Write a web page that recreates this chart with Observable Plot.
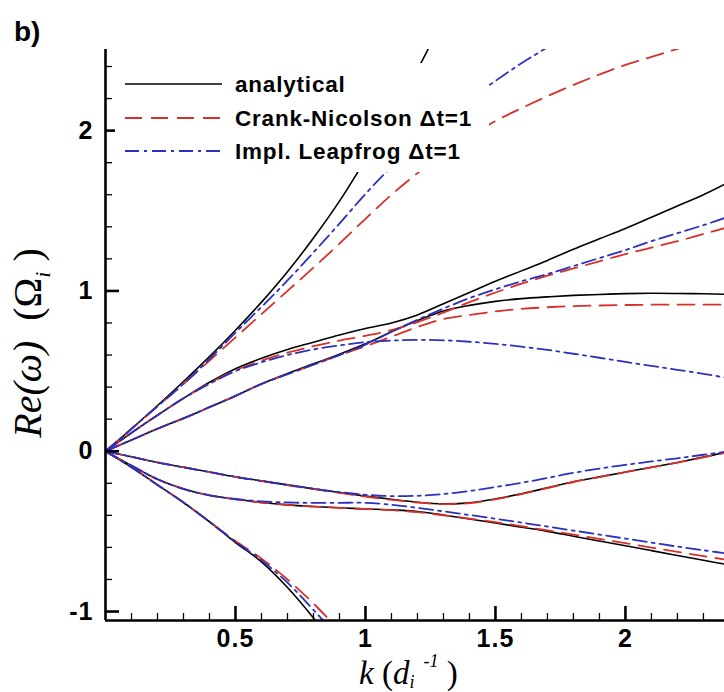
<!DOCTYPE html>
<html>
<head>
<meta charset="utf-8">
<script src="https://cdn.jsdelivr.net/npm/d3@7"></script>
<script src="https://cdn.jsdelivr.net/npm/@observablehq/plot@0.6"></script>
<style>
  body { margin: 0; background: #fff; }
  #chart { width: 724px; height: 692px; }
</style>
</head>
<body>
<div id="chart"></div>
<script>
// wavenumber grid k (d_i^-1)
const k = [0,0.1,0.2,0.3,0.4,0.5,0.6,0.7,0.8,0.9,1.0,1.1,1.2,1.3,1.4,1.5,1.6,1.7,1.8,1.9,2.0,2.1,2.2,2.3,2.4];

// analytical branches Re(omega) (Omega_i)
const anSteep = [0,0.14,0.285,0.435,0.59,0.755,0.93,1.12,1.33,1.56,1.82,2.09,2.38,2.70,null,null,null,null,null,null,null,null,null,null,null];
const anUpper = [0,0.115,0.225,0.33,0.43,0.515,0.58,0.635,0.68,0.725,0.765,0.80,0.85,0.92,0.99,1.06,1.125,1.19,1.26,1.325,1.39,1.46,1.53,1.60,1.68];
const anMid   = [0,0.07,0.14,0.205,0.275,0.345,0.42,0.485,0.545,0.605,0.67,0.745,0.815,0.875,0.91,0.935,0.952,0.963,0.972,0.978,0.983,0.985,0.984,0.982,0.978];
const anLow1  = [0,-0.035,-0.07,-0.10,-0.13,-0.16,-0.185,-0.21,-0.235,-0.257,-0.28,-0.30,-0.318,-0.328,-0.322,-0.298,-0.265,-0.228,-0.19,-0.16,-0.13,-0.10,-0.07,-0.037,-0.002];
const anLow2  = [0,-0.09,-0.175,-0.235,-0.275,-0.30,-0.32,-0.335,-0.345,-0.353,-0.36,-0.366,-0.376,-0.398,-0.423,-0.448,-0.474,-0.50,-0.53,-0.56,-0.59,-0.62,-0.65,-0.68,-0.71];
const anDown  = [0,-0.10,-0.21,-0.32,-0.44,-0.57,-0.69,-0.85,-1.04,-1.25,null,null,null,null,null,null,null,null,null,null,null,null,null,null,null];

// Crank-Nicolson dt=1
const cnSteep = [0,0.14,0.28,0.42,0.565,0.71,0.855,1.0,1.145,1.295,1.45,1.60,1.735,1.86,1.965,2.06,2.14,2.215,2.285,2.35,2.41,2.46,2.51,2.56,2.60];
const cnUpper = [0,0.115,0.225,0.33,0.425,0.505,0.565,0.615,0.655,0.69,0.72,0.755,0.805,0.865,0.93,0.99,1.045,1.095,1.14,1.185,1.23,1.27,1.31,1.355,1.40];
const cnMid   = [0,0.07,0.14,0.205,0.275,0.345,0.42,0.48,0.54,0.60,0.655,0.715,0.775,0.825,0.85,0.872,0.888,0.898,0.905,0.909,0.912,0.914,0.915,0.915,0.915];
const cnLow1  = [0,-0.035,-0.07,-0.10,-0.13,-0.16,-0.186,-0.212,-0.237,-0.26,-0.283,-0.303,-0.32,-0.33,-0.324,-0.30,-0.267,-0.23,-0.192,-0.161,-0.131,-0.101,-0.071,-0.038,-0.004];
const cnLow2  = [0,-0.09,-0.175,-0.235,-0.275,-0.30,-0.32,-0.335,-0.345,-0.353,-0.36,-0.368,-0.38,-0.40,-0.42,-0.443,-0.468,-0.494,-0.52,-0.547,-0.574,-0.601,-0.628,-0.654,-0.68];
const cnDown  = [0,-0.10,-0.21,-0.32,-0.44,-0.56,-0.67,-0.80,-0.95,-1.12,-1.30,null,null,null,null,null,null,null,null,null,null,null,null,null,null];

// Implicit Leapfrog dt=1
const ilSteep = [0,0.14,0.28,0.42,0.575,0.74,0.90,1.065,1.24,1.42,1.605,1.775,1.93,2.07,2.195,2.31,2.42,2.52,2.62,null,null,null,null,null,null];
const ilUpper = [0,0.07,0.14,0.205,0.275,0.345,0.42,0.48,0.54,0.60,0.665,0.745,0.82,0.89,0.955,1.01,1.06,1.105,1.155,1.205,1.255,1.31,1.36,1.41,1.465];
const ilMid   = [0,0.115,0.225,0.33,0.42,0.50,0.555,0.60,0.635,0.66,0.68,0.69,0.695,0.692,0.683,0.67,0.652,0.632,0.608,0.583,0.557,0.532,0.508,0.483,0.455];
const ilLow1  = [0,-0.035,-0.07,-0.10,-0.13,-0.16,-0.185,-0.21,-0.233,-0.255,-0.272,-0.28,-0.278,-0.267,-0.248,-0.224,-0.197,-0.167,-0.135,-0.108,-0.085,-0.064,-0.044,-0.022,0.0];
const ilLow2  = [0,-0.09,-0.175,-0.235,-0.275,-0.298,-0.313,-0.32,-0.322,-0.322,-0.322,-0.334,-0.353,-0.375,-0.398,-0.421,-0.445,-0.47,-0.495,-0.52,-0.545,-0.57,-0.595,-0.618,-0.64];
const ilDown  = [0,-0.10,-0.21,-0.32,-0.44,-0.565,-0.68,-0.82,-0.99,-1.17,-1.36,null,null,null,null,null,null,null,null,null,null,null,null,null,null];

// axis ticks
const xMajor = [0.5, 1, 1.5, 2];
const xMinor = [0.1,0.2,0.3,0.4,0.6,0.7,0.8,0.9,1.1,1.2,1.3,1.4,1.6,1.7,1.8,1.9,2.1,2.2,2.3];
const yMajor = [-1, 0, 1, 2];
const yMinor = [-0.8,-0.6,-0.4,-0.2,0.2,0.4,0.6,0.8,1.2,1.4,1.6,1.8,2.2,2.4];
const xDomain = [0, 2.381];
const yDomain = [-1.056, 2.506];

const legendLabels = ["analytical", "Crank-Nicolson \u0394t=1", "Impl. Leapfrog \u0394t=1"];

function rows(method, branches) {
  const out = [];
  for (const [name, arr] of Object.entries(branches)) {
    arr.forEach((w, i) => { if (w != null) out.push({k: k[i], w, branch: name, method}); });
  }
  return out;
}
const analytical = rows("analytical", {s: anSteep, u: anUpper, m: anMid, l1: anLow1, l2: anLow2, d: anDown});
const crank = rows("cn", {s: cnSteep, u: cnUpper, m: cnMid, l1: cnLow1, l2: cnLow2, d: cnDown});
const leap = rows("il", {s: ilSteep, u: ilUpper, m: ilMid, l1: ilLow1, l2: ilLow2, d: ilDown});

const RED = "#d8302a", BLUE = "#2a32bd";
const W = 724, H = 692, mL = 105, mR = 0, mT = 49, mB = 72;
const plotW = W - mL - mR, plotH = H - mT - mB;
const SANS = "'Liberation Sans', Arial, Helvetica, sans-serif";
const SERIF = "'Liberation Serif', 'Times New Roman', serif";

const chart = Plot.plot({
  width: W, height: H,
  marginLeft: mL, marginRight: mR, marginTop: mT, marginBottom: mB,
  x: {domain: xDomain},
  y: {domain: yDomain},
  style: {fontFamily: SANS, background: "#fff", color: "#000"},
  marks: [
    Plot.line(analytical, {x: "k", y: "w", z: "branch", stroke: "#000", strokeWidth: 1.6, clip: true, curve: "catmull-rom"}),
    Plot.line(crank, {x: "k", y: "w", z: "branch", stroke: RED, strokeWidth: 1.8, strokeDasharray: "17,9", clip: true, curve: "catmull-rom"}),
    Plot.line(leap, {x: "k", y: "w", z: "branch", stroke: BLUE, strokeWidth: 1.8, strokeDasharray: "14,5,3,5", clip: true, curve: "catmull-rom"}),
    Plot.tickX(xMinor, {x: d => d, insetTop: plotH - 7, strokeWidth: 1.3}),
    Plot.tickX(xMajor, {x: d => d, insetTop: plotH - 14, strokeWidth: 2.6}),
    Plot.tickY(yMinor, {y: d => d, insetRight: plotW - 7, strokeWidth: 1.3}),
    Plot.tickY(yMajor, {y: d => d, insetRight: plotW - 14, strokeWidth: 2.6}),
    Plot.ruleX([xDomain[0]], {strokeWidth: 2.6}),
    Plot.ruleY([yDomain[0]], {strokeWidth: 2.6}),
    Plot.axisX(xMajor, {tickSize: 0, tickPadding: 9, fontSize: 25, fontWeight: "bold", tickFormat: d => String(d), label: null}),
    Plot.axisY(yMajor, {tickSize: 0, tickPadding: 12, fontSize: 25, fontWeight: "bold", tickFormat: d => String(d), label: null})
  ]
});
document.getElementById("chart").appendChild(chart);

const svg = d3.select(chart);
// widen tick-label letters slightly to match the reference face
svg.selectAll("g[aria-label='x-axis tick label'] text, g[aria-label='y-axis tick label'] text")
  .style("letter-spacing", "1px");

// panel label
svg.append("text").attr("x", 14).attr("y", 41).attr("text-anchor", "start")
  .style("font-family", SANS).style("font-weight", "bold").style("font-size", "28px")
  .text("b)");

// y-axis title
const yt = svg.append("text").attr("transform", "translate(41,343) rotate(-90)").attr("text-anchor", "middle")
  .style("font-family", SERIF).style("font-size", "40px");
yt.append("tspan").style("font-style", "italic").text("Re(\u03C9)");
yt.append("tspan").text("\u00A0\u00A0(\u03A9");
yt.append("tspan").style("font-style", "italic").style("font-size", "22px").attr("dy", 9).text("i");
yt.append("tspan").attr("dy", -9).text("\u00A0)");

// x-axis title
const xt = svg.append("text").attr("x", 359).attr("y", 684).attr("text-anchor", "start")
  .style("font-family", SERIF).style("font-size", "33px");
xt.append("tspan").style("font-style", "italic").text("k");
xt.append("tspan").text(" (");
xt.append("tspan").style("font-style", "italic").text("d");
xt.append("tspan").style("font-style", "italic").style("font-size", "18px").attr("dy", 4).text("i");
xt.append("tspan").style("font-style", "italic").style("font-size", "18px").attr("dy", -21).text("\u00A0\u00A0-1");
xt.append("tspan").attr("dy", 17).text("\u00A0)");

// legend (white box drawn over the curves)
const lg = svg.append("g");
lg.append("rect").attr("x", 115).attr("y", 63).attr("width", 374).attr("height", 109).attr("fill", "#fff");
const lgStyles = [
  {stroke: "#000", dash: null, w: 1.6},
  {stroke: RED, dash: "17,9", w: 1.8},
  {stroke: BLUE, dash: "14,5,3,5", w: 1.8}
];
const lgY = [84, 118, 151];
legendLabels.forEach((t, i) => {
  const s = lgStyles[i];
  const ln = lg.append("line").attr("x1", 125).attr("x2", 222).attr("y1", lgY[i]).attr("y2", lgY[i])
    .attr("stroke", s.stroke).attr("stroke-width", s.w);
  if (s.dash) ln.attr("stroke-dasharray", s.dash);
  lg.append("text").attr("x", 235).attr("y", lgY[i] + 8).attr("text-anchor", "start")
    .style("font-family", SANS).style("font-weight", "bold").style("font-size", "22.5px")
    .style("letter-spacing", "0.8px")
    .text(t);
});
</script>
</body>
</html>
